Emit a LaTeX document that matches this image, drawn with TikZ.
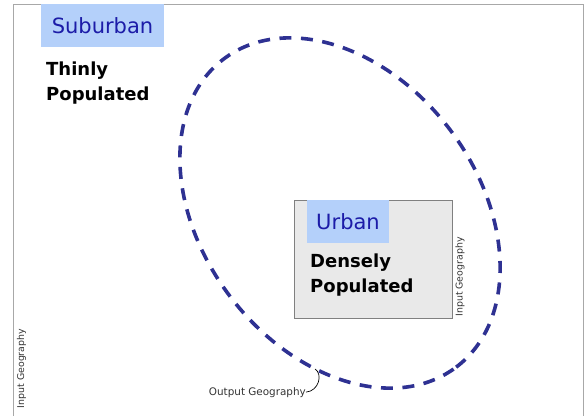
\documentclass[tikz,border=0pt]{standalone}
\usepackage{fontspec}
\setmainfont{DejaVu Sans}
\definecolor{labelblue}{HTML}{B4D0FA}
\definecolor{labeltext}{HTML}{1C1CA8}
\definecolor{outline}{HTML}{2E3192}
\definecolor{boxfill}{HTML}{E9E9E9}
\definecolor{boxline}{HTML}{808080}
\definecolor{framegray}{HTML}{A8A8A8}
\definecolor{smalltext}{HTML}{333333}
\tikzset{
  areatag/.style={fill=labelblue, text=labeltext, inner sep=0pt, font=\fontsize{21}{25}\selectfont},
  density/.style={anchor=north west, align=left, inner sep=0pt, font=\bfseries\fontsize{18}{25}\selectfont},
  smalllabel/.style={text=smalltext, inner sep=0pt, font=\fontsize{9.4}{11}\selectfont},
  dashring/.style={draw=outline, line width=3.6pt, dash pattern=on 12pt off 9.5pt}
}
\begin{document}
\begin{tikzpicture}[x=1pt,y=1pt]
\useasboundingbox (0,0) rectangle (588,-415);
% outer frame
\draw[framegray, line width=1pt] (13,-416) -- (13,-4) -- (583,-4) -- (583,-416);
% urban box
\node[draw=boxline, fill=boxfill, line width=0.8pt, minimum width=158pt, minimum height=118pt, inner sep=0pt] (urbanbox) at (373,-259) {};
\node[areatag, minimum width=82pt, minimum height=43pt] (urban) at (348,-221.5) {Urban};
\node[density] (dense) at (310,-253.5) {Densely\\Populated};
\node[smalllabel, rotate=90] (inright) at (460,-277) {Input Geography};
% suburban
\node[areatag, minimum width=123pt, minimum height=43pt] (suburban) at (102.5,-25.5) {Suburban};
\node[density] (thin) at (46,-61.5) {Thinly\\Populated};
% input geography left
\node[smalllabel, rotate=90] (inleft) at (21.5,-368.5) {Input Geography};
% output geography ellipse
\draw[dashring, rotate around={-53:(340,-213)}] (340,-213) ellipse [x radius=193, y radius=138];
\coordinate (ogpoint) at (315,-369);
\node[smalllabel, anchor=base east, font=\fontsize{10.4}{12}\selectfont] (output) at (306,-395) {Output Geography};
\draw[black, line width=0.7pt] (output.east) .. controls (319,-391) and (323,-374) .. (ogpoint);
\end{tikzpicture}
\end{document}
